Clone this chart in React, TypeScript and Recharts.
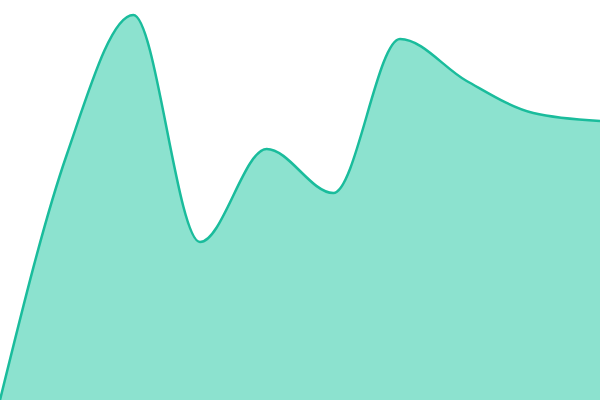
import React from "react";
import { AreaChart, Area, XAxis, YAxis } from "recharts";

const categories = ["1", "2", "3", "4", "5", "6", "7", "8", "9", "10"];
const values = [0, 245, 385, 158, 251, 207, 361, 319, 287, 279];

const data = categories.map((c, i) => ({ name: c, value: values[i] }));

export default function App() {
  return (
    <div style={{ position: "absolute", left: 0, top: 0, width: 600, height: 400, background: "#fff" }}>
      <AreaChart width={600} height={400} data={data} margin={{ top: 0, right: 0, bottom: 0, left: 0 }}>
        <XAxis dataKey="name" hide />
        <YAxis hide domain={[0, 400]} />
        <Area
          type="monotone"
          dataKey="value"
          stroke="#1abc9c"
          strokeWidth={2.5}
          fill="#19c5a0"
          fillOpacity={0.5}
          isAnimationActive={false}
          dot={false}
          activeDot={false}
        />
      </AreaChart>
    </div>
  );
}
